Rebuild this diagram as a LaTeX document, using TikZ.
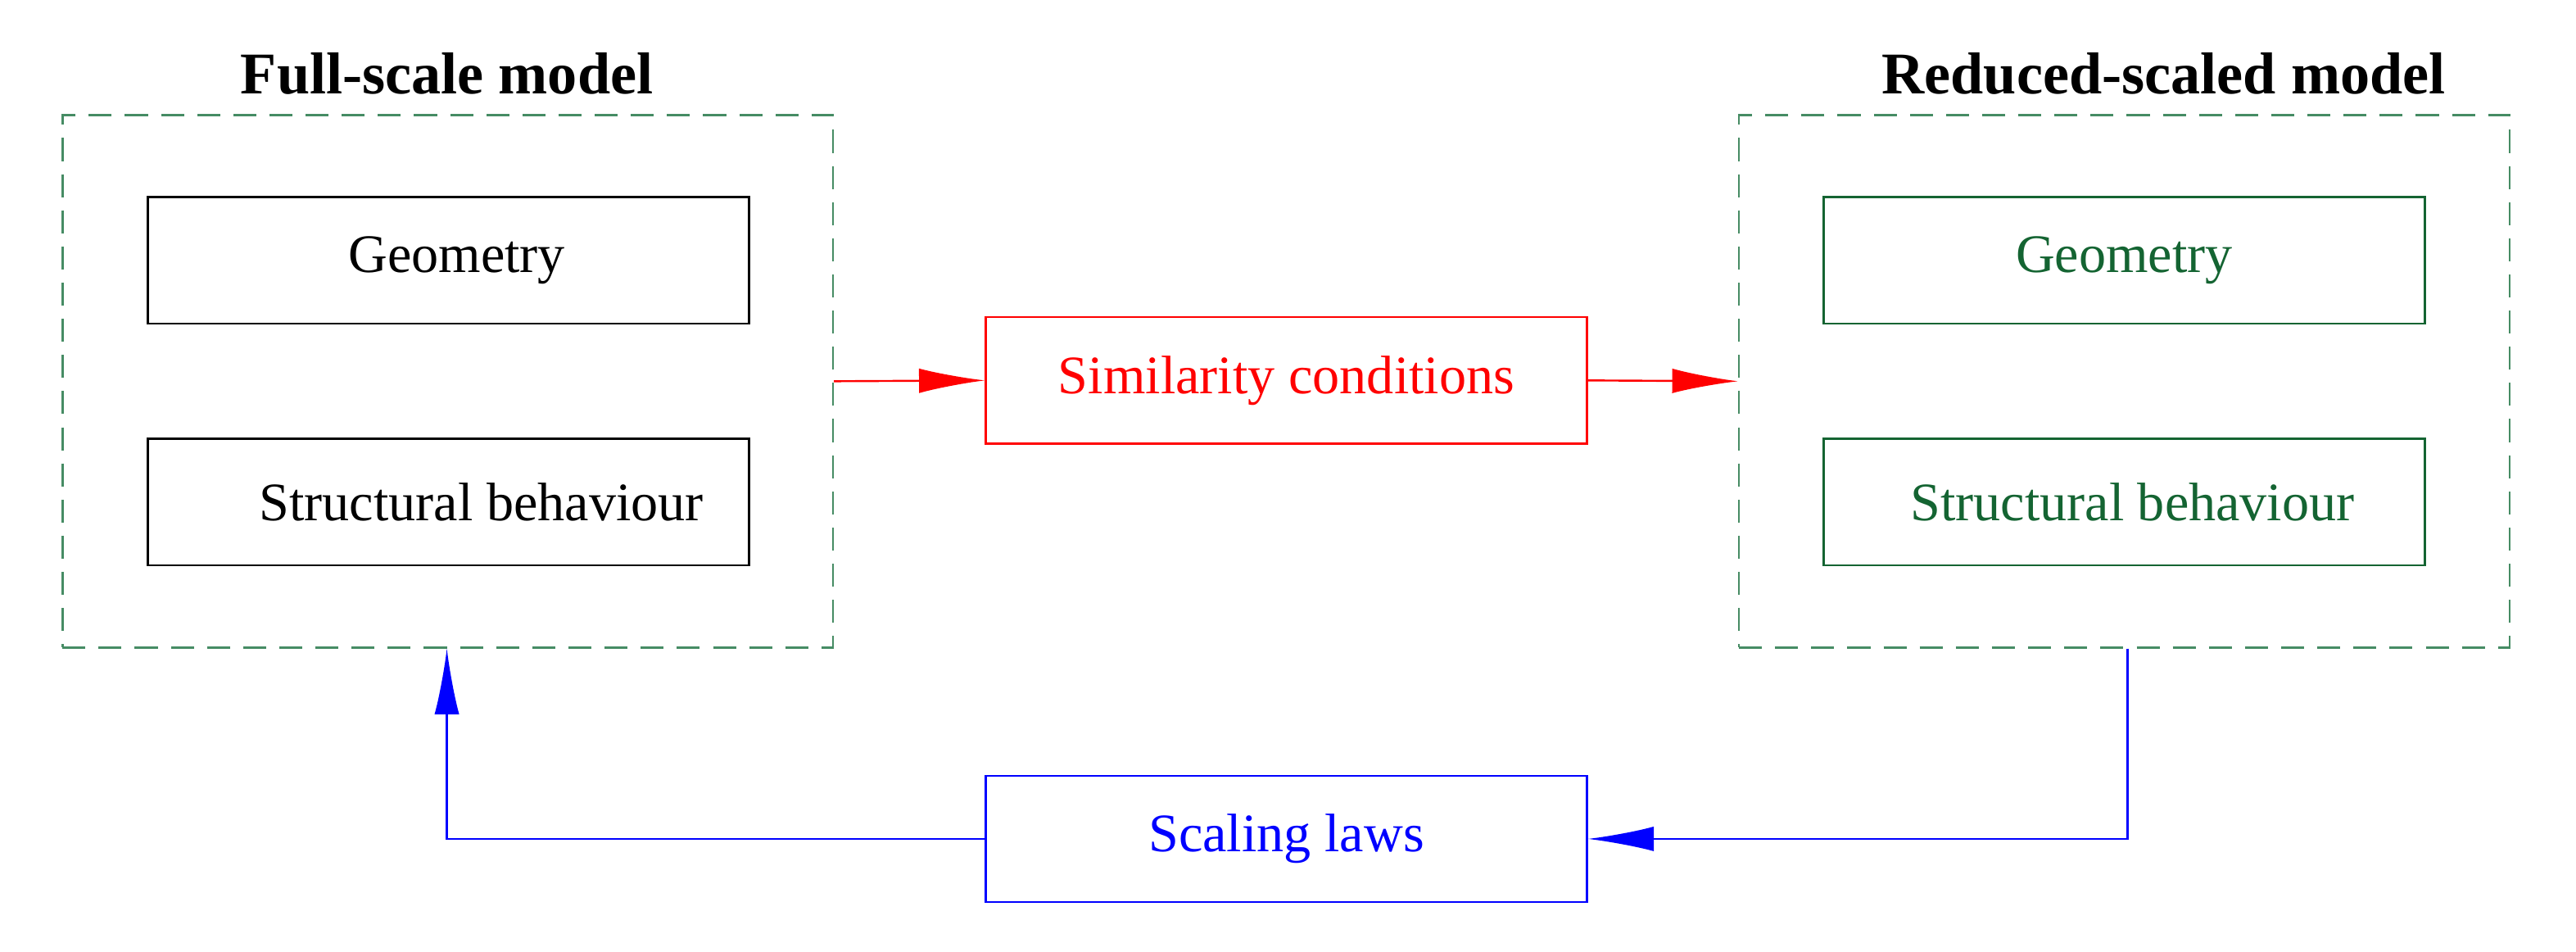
\documentclass[tikz,border=0pt]{standalone}
\usepackage{fontspec}
\setmainfont{Liberation Serif}
\usetikzlibrary{arrows.meta}
\definecolor{dgreen}{RGB}{70,140,100}
\definecolor{tgreen}{RGB}{20,100,50}
\begin{document}
\begin{tikzpicture}[x=1pt,y=-1pt,
  box/.style={draw,line width=1.2pt,minimum width=366pt,minimum height=77pt,inner sep=0pt,font=\fontsize{33}{38}\selectfont},
  grp/.style={draw=dgreen,dashed,dash pattern=on 14pt off 8pt,line width=1.3pt,minimum width=469pt,minimum height=324pt,inner sep=0pt},
  ttl/.style={font=\bfseries\fontsize{36}{42}\selectfont},
  arr/.style={line width=1.2pt,-{Latex[length=40pt,width=15pt]}}]
\useasboundingbox (0,0) rectangle (1568,579);
\node[grp] (L) at (272.5,232) {};
\node[grp] (R) at (1293,232) {};
\node[ttl] (Lt) at (272,45) {Full-scale model};
\node[ttl] (Rt) at (1317,45) {Reduced-scaled model};
\node[box] (lg) at (273,158.5) {\hspace{10pt}Geometry};
\node[box] (ls) at (273,305.5) {\hspace{40pt}Structural behaviour};
\node[box,draw=tgreen,text=tgreen] (rg) at (1293,158.5) {Geometry\hspace{10pt}};
\node[box,draw=tgreen,text=tgreen] (rs) at (1293,305.5) {\hspace{10pt}Structural behaviour};
\node[box,draw=red,text=red] (sim) at (783,231.5) {Similarity conditions\hspace{16pt}};
\node[box,draw=blue,text=blue] (sc) at (783,510.5) {Scaling laws};
\draw[arr,red] (L.east) -- (sim.west);
\draw[arr,red] (sim.east) -- (R.west);
\draw[arr,blue] (R.south -| 1295,0) |- (sc.east);
\draw[arr,blue] (sc.west) -| (L.south -| 272,0);
\end{tikzpicture}
\end{document}
